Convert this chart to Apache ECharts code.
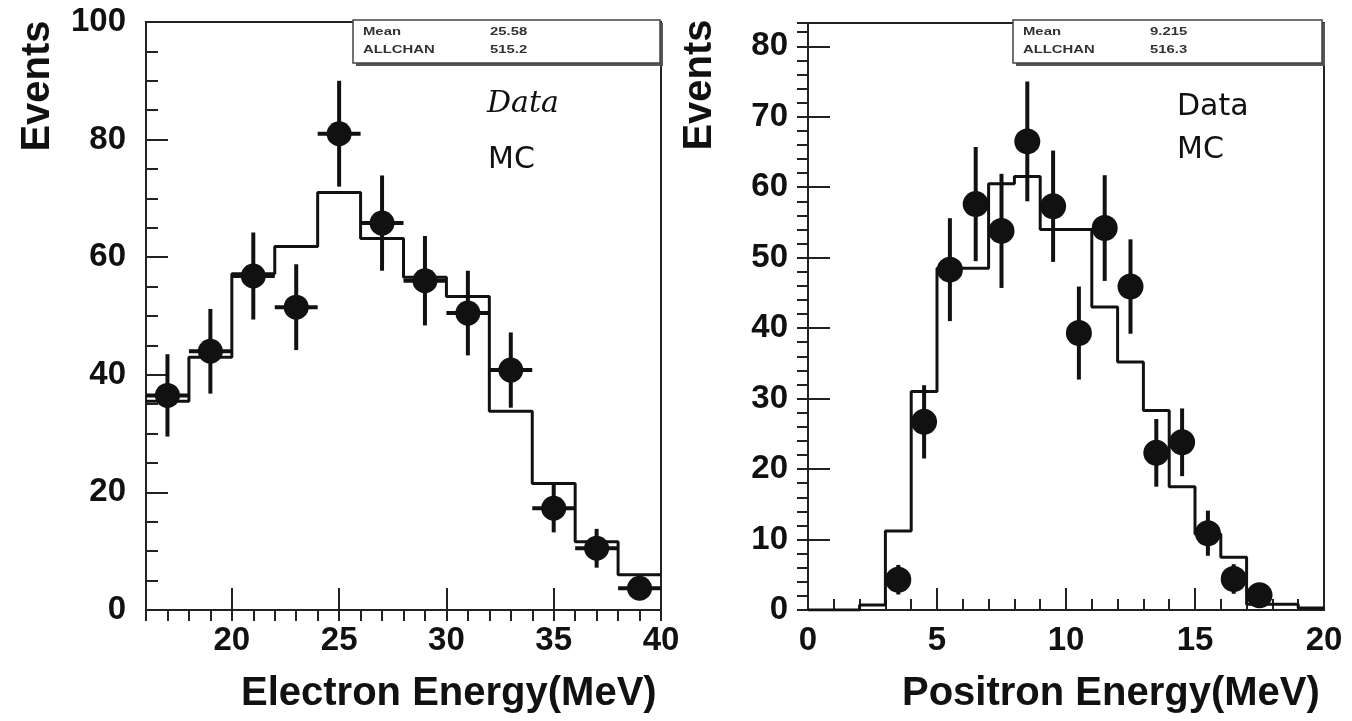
<!DOCTYPE html>
<html>
<head>
<meta charset="utf-8">
<script src="https://cdn.jsdelivr.net/npm/echarts@6/dist/echarts.min.js"></script>
<style>
  html, body { margin: 0; padding: 0; background: #ffffff; }
  #chart { width: 1352px; height: 721px; }
</style>
</head>
<body>
<div id="chart"></div>
<script>
// Electron spectrum: 2 MeV bins from 16 to 40 MeV
const electronBinLow = 16;
const electronBinWidth = 2;
const electronCenters = [17, 19, 21, 23, 25, 27, 29, 31, 33, 35, 37, 39];
const electronData = [36.5, 44, 56.8, 51.5, 81, 65.8, 56, 50.5, 40.8, 17.3, 10.5, 3.7];
const electronErr = [7, 7.2, 7.4, 7.3, 9, 8.1, 7.6, 7.2, 6.4, 4.1, 3.3, 2];
const electronMC = [35.5, 43, 57.2, 61.8, 71, 63.2, 56.6, 53.3, 33.8, 21.5, 11.6, 6.0];
const electronTicks = [20, 25, 30, 35, 40];
const electronStats = [['Mean', '25.58'], ['ALLCHAN', '515.2']];

// Positron spectrum: 1 MeV bins from 0 to 20 MeV
const positronBinLow = 0;
const positronBinWidth = 1;
const positronCenters = [3.5, 4.5, 5.5, 6.5, 7.5, 8.5, 9.5, 10.5, 11.5, 12.5, 13.5, 14.5, 15.5, 16.5, 17.5];
const positronData = [4.3, 26.7, 48.3, 57.6, 53.8, 66.5, 57.3, 39.3, 54.2, 45.9, 22.3, 23.8, 10.9, 4.4, 2.1];
const positronErr = [2.1, 5.2, 7.3, 8.1, 8.1, 8.5, 7.9, 6.6, 7.5, 6.7, 4.8, 4.8, 3.2, 2.1, 1.4];
const positronMC = [0, 0, 0.7, 11.2, 31, 48.5, 48.5, 60.5, 61.5, 54, 54, 43, 35.2, 28.3, 17.5, 10.8, 7.5, 0.8, 0.8, 0.3];
const positronStats = [['Mean', '9.215'], ['ALLCHAN', '516.3']];

const INK = '#111';
const FRAME = '#222';
const tickFont = { color: INK, fontSize: 33, fontWeight: 'bold', fontFamily: 'Liberation Sans' };

// Histogram outline: one point per bin edge, drawn as a step line
function stepPoints(low, width, values) {
  const pts = values.map((v, i) => [low + i * width, v]);
  pts.push([low + values.length * width, values[values.length - 1]]);
  return pts;
}

function pointsWithErrors(centers, values, errs) {
  return centers.map((c, i) => [c, values[i], errs[i]]);
}

// Filled marker with vertical error bar (and optional bin-width bar)
function errorBarItem(halfWidth, radius) {
  return function (params, api) {
    const x = api.value(0), y = api.value(1), e = api.value(2);
    const c = api.coord([x, y]);
    const top = api.coord([x, y + e]);
    const bot = api.coord([x, y - e]);
    const children = [{
      type: 'line',
      shape: { x1: c[0], y1: top[1], x2: c[0], y2: bot[1] },
      style: { stroke: INK, lineWidth: 4 }
    }];
    if (halfWidth > 0) {
      const l = api.coord([x - halfWidth, y]);
      const r = api.coord([x + halfWidth, y]);
      children.push({
        type: 'line',
        shape: { x1: l[0], y1: c[1], x2: r[0], y2: c[1] },
        style: { stroke: INK, lineWidth: 4 }
      });
    }
    children.push({ type: 'circle', shape: { cx: c[0], cy: c[1], r: radius }, style: { fill: INK } });
    return { type: 'group', children: children };
  };
}

function majorAxis(extra) {
  return Object.assign({
    type: 'value',
    axisLine: { show: true, onZero: false, lineStyle: { color: FRAME, width: 2 } },
    axisTick: { show: true, inside: true, length: 22, lineStyle: { color: FRAME, width: 2 } },
    splitLine: { show: false }
  }, extra);
}

function minorAxis(extra) {
  return Object.assign({
    type: 'value',
    axisLine: { show: false },
    axisTick: { show: true, inside: true, length: 11, lineStyle: { color: FRAME, width: 2 } },
    axisLabel: { show: false },
    splitLine: { show: false }
  }, extra);
}

function statBox(x, y, w, h, rows, valueX) {
  const items = [
    { type: 'rect', shape: { x: x + 3, y: y + 3, width: w, height: h }, style: { fill: '#555' }, z: 100 },
    { type: 'rect', shape: { x: x, y: y, width: w, height: h }, style: { fill: '#fff', stroke: '#444', lineWidth: 1.5 }, z: 101 }
  ];
  rows.forEach((row, i) => {
    const ty = y + 12 + i * 18;
    items.push({ type: 'text', x: x + 10, y: ty, scaleX: 1.35, z: 102,
      style: { text: row[0], font: 'bold 11px "Liberation Sans"', fill: '#333', verticalAlign: 'middle' } });
    items.push({ type: 'text', x: valueX, y: ty, scaleX: 1.35, z: 102,
      style: { text: row[1], font: 'bold 11px "Liberation Sans"', fill: '#333', verticalAlign: 'middle' } });
  });
  return items;
}

function label(text, x, y, font, extra) {
  return Object.assign({ type: 'text', x: x, y: y, z: 102,
    style: { text: text, font: font, fill: INK, verticalAlign: 'middle' } }, extra || {});
}

const chart = echarts.init(document.getElementById('chart'), null, { renderer: 'canvas' });

chart.setOption({
  animation: false,
  backgroundColor: '#ffffff',
  grid: [
    { left: 146, top: 22, width: 515, height: 588, show: true, borderColor: FRAME, borderWidth: 2, backgroundColor: 'transparent' },
    { left: 808, top: 23, width: 516, height: 587, show: true, borderColor: FRAME, borderWidth: 2, backgroundColor: 'transparent' }
  ],
  xAxis: [
    majorAxis({
      gridIndex: 0, min: 16, max: 40,
      axisTick: { show: true, inside: true, length: 22, customValues: electronTicks, lineStyle: { color: FRAME, width: 2 } },
      axisLabel: Object.assign({ customValues: electronTicks, margin: 14 }, tickFont)
    }),
    minorAxis({ gridIndex: 0, min: 16, max: 40, interval: 1 }),
    majorAxis({
      gridIndex: 1, min: 0, max: 20, interval: 5,
      minorTick: { show: true, splitNumber: 5, length: 11, lineStyle: { color: FRAME, width: 2 } },
      axisLabel: Object.assign({ margin: 14 }, tickFont)
    })
  ],
  yAxis: [
    majorAxis({
      gridIndex: 0, min: 0, max: 100, interval: 20,
      minorTick: { show: true, splitNumber: 4, length: 12, lineStyle: { color: FRAME, width: 2 } },
      axisLabel: Object.assign({ margin: 20 }, tickFont)
    }),
    majorAxis({
      gridIndex: 1, min: 0, max: 83.3, interval: 10,
      axisLabel: Object.assign({
        margin: 20,
        formatter: function (v) { return v % 10 === 0 ? String(v) : ''; }
      }, tickFont)
    }),
    minorAxis({ gridIndex: 1, min: 0, max: 83.3, interval: 2 })
  ],
  series: [
    {
      name: 'MC', type: 'line', step: 'end', xAxisIndex: 0, yAxisIndex: 0,
      data: stepPoints(electronBinLow, electronBinWidth, electronMC),
      showSymbol: false, lineStyle: { color: INK, width: 3 }, z: 3
    },
    {
      name: 'Data', type: 'custom', xAxisIndex: 0, yAxisIndex: 0,
      renderItem: errorBarItem(electronBinWidth / 2, 12.5),
      data: pointsWithErrors(electronCenters, electronData, electronErr), z: 4
    },
    {
      name: 'MC', type: 'line', step: 'end', xAxisIndex: 2, yAxisIndex: 1,
      data: stepPoints(positronBinLow, positronBinWidth, positronMC),
      showSymbol: false, lineStyle: { color: INK, width: 3 }, z: 3
    },
    {
      name: 'Data', type: 'custom', xAxisIndex: 2, yAxisIndex: 1,
      renderItem: errorBarItem(0, 13),
      data: pointsWithErrors(positronCenters, positronData, positronErr), z: 4
    }
  ],
  graphic: [].concat(
    statBox(353, 20, 307, 43, electronStats, 490),
    statBox(1013, 20, 309, 43, positronStats, 1150),
    [
      label('Data', 487, 104, 'italic 30px "DejaVu Serif"'),
      label('MC', 488, 160, '30px "DejaVu Sans"'),
      label('Data', 1177, 107, '30px "DejaVu Sans"'),
      label('MC', 1177, 150, '30px "DejaVu Sans"'),
      label('Electron Energy(MeV)', 241, 694, 'bold 40px "Liberation Sans"'),
      label('Positron Energy(MeV)', 902, 694, 'bold 40px "Liberation Sans"'),
      label('Events', 38, 86, 'bold 40px "Liberation Sans"', { rotation: Math.PI / 2,
        style: { text: 'Events', font: 'bold 40px "Liberation Sans"', fill: INK, align: 'center', verticalAlign: 'middle' } }),
      label('Events', 700, 85, 'bold 40px "Liberation Sans"', { rotation: Math.PI / 2,
        style: { text: 'Events', font: 'bold 40px "Liberation Sans"', fill: INK, align: 'center', verticalAlign: 'middle' } })
    ]
  )
});
</script>
</body>
</html>
